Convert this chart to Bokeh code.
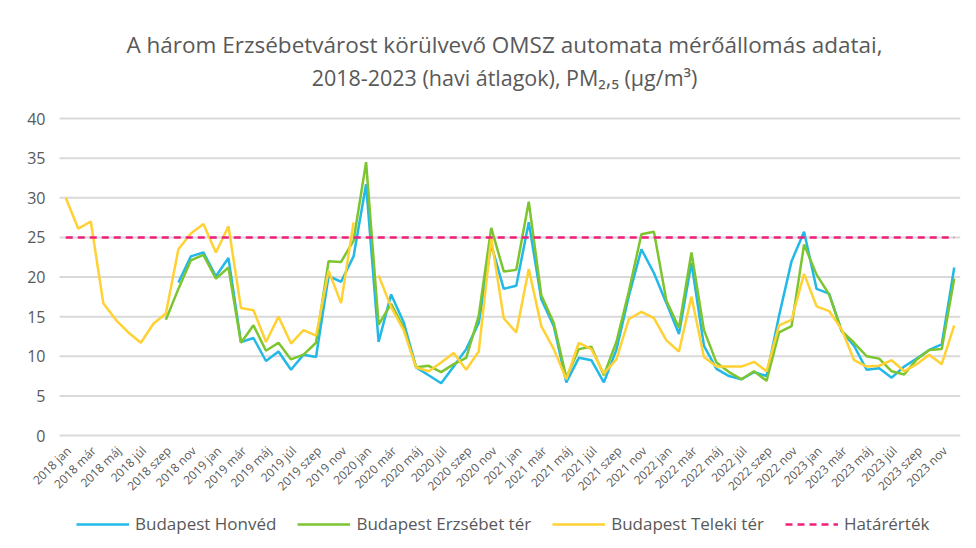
import numpy as np
from bokeh.plotting import figure
from bokeh.models import Range1d, Legend, LegendItem, Label
from bokeh.core.properties import value
from bokeh.embed import file_html
from bokeh.resources import INLINE

nan = float("nan")

months = ["jan", "feb", "már", "ápr", "máj", "jún", "júl", "aug", "szep", "okt", "nov", "dec"]
years = [2018, 2019, 2020, 2021, 2022, 2023]
month_labels = [f"{y} {m}" for y in years for m in months]

honved = [
    nan, nan, nan, nan, nan, nan, nan, nan, nan, 19.3, 22.6, 23.1,
    20.1, 22.4, 11.8, 12.3, 9.4, 10.6, 8.3, 10.2, 9.9, 20.1, 19.4, 22.6,
    31.7, 11.8, 17.8, 14.3, 8.6, 7.6, 6.6, 8.7, 10.9, 14.2, 24.1, 18.5,
    18.9, 26.9, 17.2, 13.8, 6.7, 9.8, 9.5, 6.7, 10.8, 17.6, 23.5, 20.5,
    16.7, 12.8, 21.8, 11.3, 8.4, 7.5, 7.1, 8.0, 7.5, 15.1, 22.0, 25.7,
    18.5, 17.9, 13.2, 11.3, 8.3, 8.5, 7.3, 8.7, 9.7, 10.8, 11.5, 21.2,
]
erzsebet = [
    nan, nan, nan, nan, nan, nan, nan, nan, 14.6, 18.5, 22.1, 22.8,
    19.8, 21.2, 11.7, 13.9, 10.7, 11.7, 9.6, 10.2, 11.7, 22.0, 21.9, 24.6,
    34.5, 14.0, 16.6, 13.6, 8.6, 8.8, 8.0, 9.0, 9.8, 15.1, 26.2, 20.7,
    20.9, 29.5, 17.7, 14.2, 7.3, 10.9, 11.2, 7.6, 11.8, 18.2, 25.4, 25.7,
    17.0, 13.6, 23.1, 13.3, 9.2, 8.0, 7.1, 8.1, 6.9, 13.0, 13.8, 24.1,
    20.3, 17.8, 13.2, 11.7, 10.0, 9.7, 8.1, 7.7, 9.6, 10.8, 10.9, 19.8,
]
teleki = [
    30.0, 26.1, 27.0, 16.7, 14.6, 13.0, 11.7, 14.1, 15.4, 23.5, 25.5, 26.7,
    23.1, 26.4, 16.1, 15.8, 11.8, 15.0, 11.6, 13.3, 12.6, 20.8, 16.7, 26.9,
    nan, 20.2, 16.2, 13.3, 8.6, 8.1, 9.2, 10.4, 8.3, 10.6, 24.9, 14.8,
    13.0, 21.0, 13.8, 10.9, 7.1, 11.7, 10.9, 7.8, 9.6, 14.7, 15.6, 14.8,
    12.0, 10.6, 17.5, 9.9, 8.7, 8.7, 8.7, 9.3, 8.1, 13.9, 14.6, 20.4,
    16.3, 15.7, 13.4, 9.5, 8.7, 8.8, 9.5, 8.1, 9.0, 10.2, 9.0, 13.9,
]
limit_value = 25
hatarertek = [limit_value] * len(month_labels)

series_names = ["Budapest Honvéd", "Budapest Erzsébet tér", "Budapest Teleki tér", "Határérték"]
title_line1 = "A három Erzsébetvárost körülvevő OMSZ automata mérőállomás adatai,"
title_line2 = "2018-2023 (havi átlagok), PM₂,₅ (µg/m³)"
y_ticks = [0, 5, 10, 15, 20, 25, 30, 35, 40]

x = list(range(len(month_labels)))
n = len(month_labels)
TEXT = "#595959"
FONT = "Open Sans"

# plot area: 40 units = 317 px tall, 901 px wide for the 72 months;
# the frame is extended left (value labels), up (title) and down (month labels, legend)
PX_PER_UNIT = 317 / 40
PX_PER_CAT = 901 / n
LEFT_EXTRA = 59
ABOVE_ZERO = 421
BELOW_ZERO = 103
x_lo, x_hi = -0.5, n - 0.5
p = figure(
    frame_width=901 + LEFT_EXTRA, frame_height=ABOVE_ZERO + BELOW_ZERO,
    min_border_left=0, min_border_right=6, min_border_top=14, min_border_bottom=2,
    x_range=Range1d(x_lo - LEFT_EXTRA / PX_PER_CAT, x_hi),
    y_range=Range1d(-BELOW_ZERO / PX_PER_UNIT, ABOVE_ZERO / PX_PER_UNIT),
    output_backend="svg", toolbar_location=None,
)
p.outline_line_color = None
p.background_fill_color = "white"
p.border_fill_color = "white"
p.xaxis.visible = False
p.yaxis.visible = False
p.grid.grid_line_color = None

# title lines (screen units relative to the frame bottom-left)
p.add_layout(Label(x=LEFT_EXTRA + 445, y=BELOW_ZERO + 391, x_units="screen", y_units="screen",
                   text=title_line1, text_align="center", text_baseline="middle",
                   text_font=FONT, text_font_size="22.5px", text_color=TEXT))
p.add_layout(Label(x=LEFT_EXTRA + 445, y=BELOW_ZERO + 358, x_units="screen", y_units="screen",
                   text=title_line2, text_align="center", text_baseline="middle",
                   text_font=FONT, text_font_size="21.5px", text_color=TEXT))

# horizontal gridlines and value labels
p.segment(x0=[x_lo] * len(y_ticks), x1=[x_hi] * len(y_ticks), y0=y_ticks, y1=y_ticks,
          line_color="#d9d9d9", line_width=2)
p.text(x=[x_lo] * len(y_ticks), y=y_ticks, text=[str(t) for t in y_ticks],
       text_align="right", text_baseline="middle", x_offset=-14,
       text_font=value(FONT), text_font_size="16px", text_color=TEXT)

# month labels (every second month), rotated, hung under the zero line
even = x[::2]
p.text(x=even, y=[0] * len(even), text=[month_labels[i] for i in even],
       angle=np.pi / 4, text_align="right", text_baseline="middle",
       x_offset=3, y_offset=13, text_font=value(FONT), text_font_size="12px",
       text_color=TEXT)

r1 = p.line(x, honved, line_color="#22b8e8", line_width=2.5)
r2 = p.line(x, erzsebet, line_color="#7cc52e", line_width=2.5)
r3 = p.line(x, teleki, line_color="#ffd133", line_width=2.5)
r4 = p.line(x, hatarertek, line_color="#f0207a", line_width=2.5, line_dash="7 5")

legend = Legend(
    items=[LegendItem(label=s, renderers=[r]) for s, r in zip(series_names, [r1, r2, r3, r4])],
    orientation="horizontal", location=(LEFT_EXTRA + 17, 3),
    label_text_font=FONT, label_text_font_size="17px", label_text_color=TEXT,
    glyph_width=53, glyph_height=20, spacing=21, label_standoff=6,
    border_line_color=None, background_fill_alpha=0, margin=0, padding=4,
)
p.add_layout(legend)

open("out.html", "w").write(file_html(p, INLINE))
